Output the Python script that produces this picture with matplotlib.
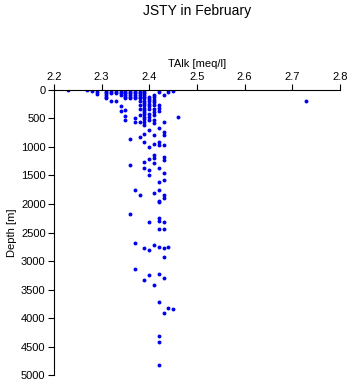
#!/usr/bin/env python3
import matplotlib
matplotlib.use('Agg')
import matplotlib.pyplot as plt

plt.rcParams['font.family'] = ['Liberation Sans', 'DejaVu Sans']

# TAlk [meq/l] column values and the depths [m] observed at each
talk_columns = [2.23, 2.27, 2.28, 2.29, 2.31, 2.32, 2.33, 2.34, 2.35, 2.36,
                2.37, 2.38, 2.39, 2.40, 2.41, 2.42, 2.43, 2.44, 2.45, 2.46,
                2.73]
depth_columns = [
    [0],
    [10],
    [25],
    [10, 40, 70],
    [0, 30, 60, 90, 120, 150],
    [0, 30, 60, 190],
    [0, 30, 60, 190],
    [0, 30, 60, 90, 280, 370],
    [0, 30, 60, 90, 120, 150, 360, 450, 530],
    [0, 30, 60, 90, 120, 150, 860, 1320, 2170],
    [0, 30, 60, 90, 120, 150, 490, 560, 1750, 2680, 3140],
    [0, 30, 60, 90, 120, 150, 190, 260, 340, 440, 560, 820, 1840],
    [0, 30, 60, 90, 120, 150, 190, 230, 270, 310, 350, 390, 430, 470, 510,
     560, 620, 780, 910, 1260, 1370, 2770, 3330],
    [120, 160, 200, 240, 280, 340, 420, 480, 530, 700, 1000, 1210, 1400,
     1490, 2320, 2800, 3250],
    [90, 120, 170, 210, 260, 330, 380, 440, 530, 580, 790, 950, 1140, 1200,
     1280, 1810, 2720, 3420],
    [0, 30, 260, 310, 370, 670, 910, 960, 1370, 1610, 1750, 1950, 1960,
     2250, 2300, 2440, 2750, 3230, 3720, 4320, 4420, 4820],
    [90, 560, 740, 790, 960, 1170, 1230, 1460, 1580, 1840, 1900, 2320, 2440,
     2770, 2930, 3300, 3910],
    [0, 40, 2750, 3820],
    [20, 3840],
    [470],
    [190],
]

x_ticks = [2.2, 2.3, 2.4, 2.5, 2.6, 2.7, 2.8]
y_ticks = [0, 500, 1000, 1500, 2000, 2500, 3000, 3500, 4000, 4500, 5000]

talk = []
depth = []
for t, ds in zip(talk_columns, depth_columns):
    talk += [t] * len(ds)
    depth += ds

fig = plt.figure(figsize=(3.5, 3.84), dpi=100)
ax = fig.add_axes([0.154, 0.023, 0.817, 0.743])

ax.plot(talk, depth, 'o', color='#0000f0', markersize=2.8, markeredgewidth=0,
        antialiased=False)

ax.set_xlim(2.2, 2.8)
ax.set_ylim(5000, 0)
ax.set_xticks(x_ticks)
ax.set_xticklabels(['{:.1f}'.format(v) for v in x_ticks])
ax.set_yticks(y_ticks)

ax.spines['right'].set_visible(False)
ax.spines['bottom'].set_visible(False)
ax.xaxis.tick_top()
ax.xaxis.set_label_position('top')
ax.tick_params(direction='out', length=4, width=0.8, labelsize=8, pad=2)

ax.set_xlabel('TAlk [meq/l]', fontsize=8, labelpad=3)
ax.set_ylabel('Depth [m]', fontsize=8, labelpad=3)
fig.suptitle('JSTY in February', fontsize=10, x=0.563, y=0.99)

plt.savefig('out.png', dpi=100)
